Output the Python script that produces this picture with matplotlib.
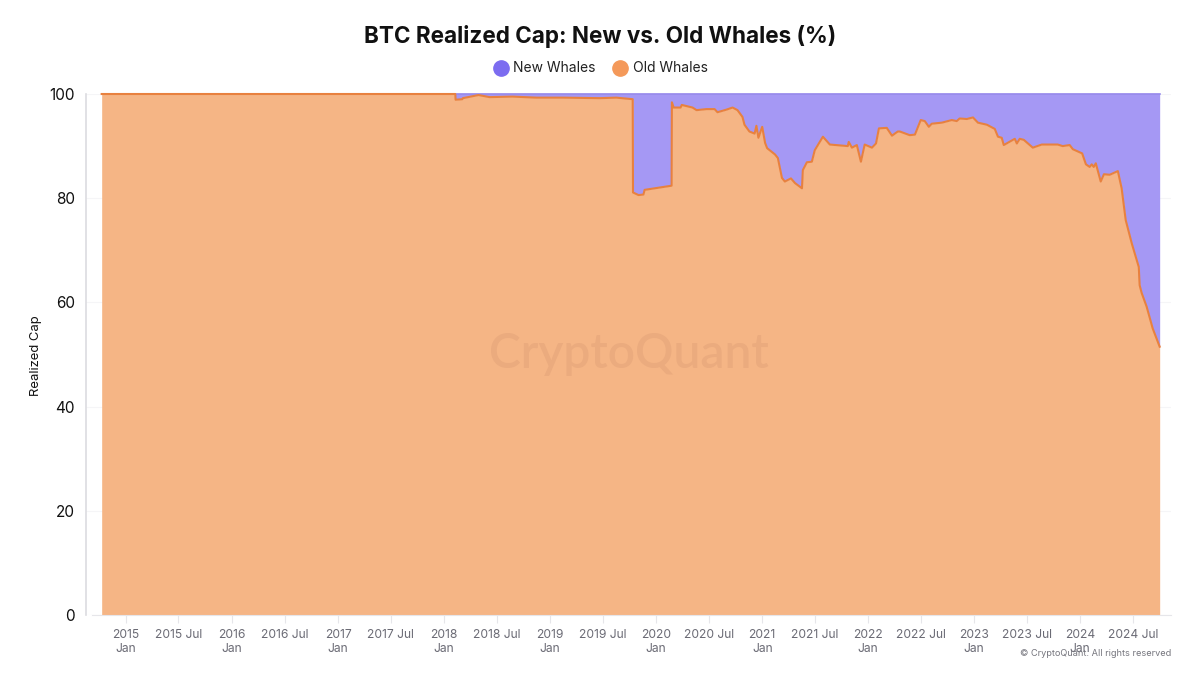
import pandas as pd
import numpy as np
import matplotlib
matplotlib.use('Agg')
import matplotlib.pyplot as plt
import matplotlib.dates as mdates
from matplotlib.lines import Line2D

plt.rcParams['font.family'] = ['Inter', 'DejaVu Sans']

# values, share of realized cap held by old whales
dates = [
    '2014-10-10', '2018-02-09', '2018-02-10', '2018-03-05', '2018-03-07', '2018-04-30', '2018-06-07',
    '2018-08-25', '2018-11-16', '2019-02-14', '2019-06-21', '2019-08-18', '2019-10-13', '2019-10-14',
    '2019-11-02', '2019-11-19', '2019-11-23', '2020-02-24', '2020-02-25', '2020-03-02', '2020-03-26',
    '2020-03-30', '2020-05-06', '2020-05-20', '2020-06-23', '2020-07-21', '2020-07-31', '2020-08-31',
    '2020-09-21', '2020-10-08', '2020-10-25', '2020-11-01', '2020-11-18', '2020-12-06', '2020-12-12',
    '2020-12-19', '2021-01-01', '2021-01-11', '2021-01-18', '2021-02-14', '2021-02-24', '2021-03-10',
    '2021-03-20', '2021-04-10', '2021-04-24', '2021-05-18', '2021-05-21', '2021-06-04', '2021-06-21',
    '2021-07-01', '2021-07-29', '2021-08-22', '2021-10-23', '2021-10-26', '2021-11-06', '2021-11-23',
    '2021-12-07', '2021-12-20', '2022-01-14', '2022-01-28', '2022-02-07', '2022-03-06', '2022-03-24',
    '2022-04-13', '2022-04-20', '2022-05-24', '2022-06-11', '2022-07-01', '2022-07-15', '2022-07-29',
    '2022-08-08', '2022-09-12', '2022-10-16', '2022-11-02', '2022-11-12', '2022-12-07', '2022-12-28',
    '2023-01-14', '2023-02-14', '2023-03-13', '2023-03-24', '2023-04-06', '2023-04-13', '2023-05-21',
    '2023-05-28', '2023-06-07', '2023-06-21', '2023-07-22', '2023-08-22', '2023-10-16', '2023-11-02',
    '2023-11-26', '2023-12-07', '2024-01-08', '2024-01-21', '2024-02-03', '2024-02-10', '2024-02-17',
    '2024-02-24', '2024-03-12', '2024-03-23', '2024-04-12', '2024-05-10', '2024-05-23', '2024-06-06',
    '2024-06-27', '2024-07-21', '2024-07-24', '2024-07-31', '2024-08-17', '2024-09-07', '2024-10-01',
]
old_whales = [
    100.0, 100.0, 98.9, 99.0, 99.2, 99.8, 99.4,
    99.5, 99.3, 99.3, 99.2, 99.3, 99.0, 81.1,
    80.6, 80.7, 81.6, 82.4, 98.4, 97.4, 97.4,
    97.9, 97.4, 96.9, 97.1, 97.1, 96.5, 97.0,
    97.4, 96.9, 95.6, 94.1, 92.8, 92.4, 93.9,
    91.6, 93.7, 90.6, 89.6, 88.4, 87.7, 83.9,
    83.2, 83.8, 82.9, 81.9, 85.4, 86.9, 87.0,
    89.2, 91.8, 90.3, 90.0, 90.8, 89.7, 90.2,
    87.0, 90.3, 89.7, 90.5, 93.4, 93.5, 92.0,
    92.8, 92.8, 92.1, 92.2, 95.0, 94.8, 93.7,
    94.3, 94.5, 95.0, 94.8, 95.3, 95.2, 95.5,
    94.5, 94.1, 93.3, 91.8, 91.6, 90.2, 91.4,
    90.5, 91.4, 91.2, 89.7, 90.3, 90.3, 90.0,
    90.2, 89.4, 88.6, 86.5, 86.0, 86.5, 86.0,
    86.7, 83.2, 84.6, 84.5, 85.2, 81.9, 75.8,
    71.3, 66.8, 63.3, 61.8, 59.2, 55.0, 51.5,
]
tick_dates = pd.date_range('2015-01-01', '2024-07-01', freq='6MS')
tick_labels = [f'{d.year}\nJan' if d.month == 1 else f'{d.year} Jul' for d in tick_dates]

dates = pd.to_datetime(dates)
old_whales = np.array(old_whales)

fig = plt.figure(figsize=(12, 6.75), dpi=100)
ax = fig.add_axes([86 / 1200, 1 - 615 / 675, (1171 - 86) / 1200, (615 - 94) / 675])

ax.fill_between(dates, old_whales, 100, color='#A598F4', lw=0, zorder=2)
ax.fill_between(dates, 0, old_whales, color='#F5B585', lw=0, zorder=2)
ax.plot(dates, np.full(len(dates), 100), color='#8A7BEA', lw=1.1, zorder=3, clip_on=False)
ax.plot(dates, old_whales, color='#E8813F', lw=1.5, zorder=4, clip_on=False)

ax.set_xlim(pd.Timestamp('2014-08-17'), pd.Timestamp('2024-11-09'))
ax.set_ylim(0, 100)
ax.set_yticks([0, 20, 40, 60, 80, 100])
ax.set_xticks(tick_dates)
ax.set_xticklabels(tick_labels, fontsize=8.7, color='#6B6B75', linespacing=1.25)
ax.tick_params(axis='x', length=6, width=0.8, color='#E6E6EA', pad=4)
ax.tick_params(axis='y', length=0, labelsize=11, pad=8, labelcolor='#111111')
ax.set_ylabel('Realized Cap', fontsize=9.4, color='#111111')
ax.yaxis.set_label_coords((42 - 86) / 1085, 0.497)
ax.grid(axis='y', color='#F5F5F7', lw=0.8, zorder=1)

for side in ['top', 'right']:
    ax.spines[side].set_visible(False)
ax.spines['left'].set_color('#DCDCE0')
ax.spines['left'].set_linewidth(1.2)
ax.spines['bottom'].set_color('#E6E6EA')
ax.spines['bottom'].set_bounds(mdates.date2num(pd.Timestamp('2014-09-08')),
                               mdates.date2num(pd.Timestamp('2024-11-09')))

# watermark
ax.text(0.5, 0.5, 'CryptoQuant', transform=ax.transAxes, ha='center', va='center',
        fontsize=34.5, fontweight='semibold', color='#EBAB7E', family=['Lato', 'DejaVu Sans'], zorder=3)

fig.text(0.5, 1 - 36 / 675, 'BTC Realized Cap: New vs. Old Whales (%)', ha='center', va='center',
         fontsize=16.2, fontweight='bold', color='#111111')

handles = [
    Line2D([], [], ls='', marker='o', ms=11, color='#7C6CF0', label='New Whales'),
    Line2D([], [], ls='', marker='o', ms=11, color='#F4995A', label='Old Whales'),
]
fig.legend(handles=handles, loc='center', bbox_to_anchor=(597.5 / 1200, 1 - 68.5 / 675), ncol=2, frameon=False,
           fontsize=10, handletextpad=-0.1, columnspacing=0.77, labelcolor='#222222')

fig.text(1171 / 1200, 1 - 654 / 675, '© CryptoQuant. All rights reserved', ha='right', va='center',
         fontsize=6.6, color='#75757D')

fig.savefig('out.png', dpi=100)
